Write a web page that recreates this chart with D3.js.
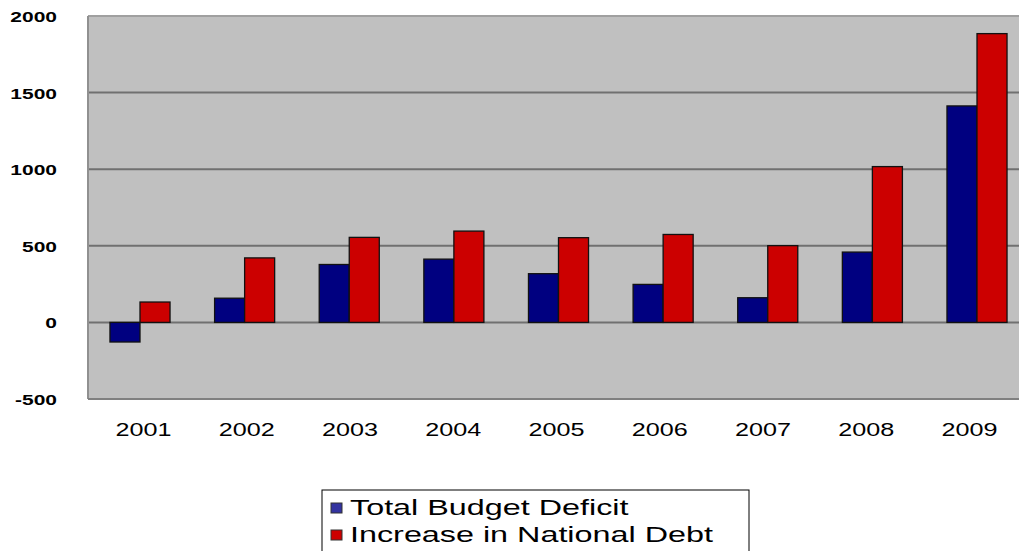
<!DOCTYPE html>
<html>
<head>
<meta charset="utf-8">
<script src="https://cdn.jsdelivr.net/npm/d3@7"></script>
<style>
  body { margin: 0; background: #fff; }
  text { font-family: "Liberation Sans", Arial, sans-serif; fill: #000; }
</style>
</head>
<body>
<div id="graphic"></div>
<script>
// data (billions of dollars)
const years = ["2001", "2002", "2003", "2004", "2005", "2006", "2007", "2008", "2009"];
const deficit = [-128, 158, 378, 413, 318, 248, 161, 459, 1413];
const debtIncrease = [133, 421, 555, 596, 553, 574, 501, 1017, 1885];
const seriesNames = ["Total Budget Deficit", "Increase in National Debt"];
const seriesColors = ["#000080", "#cc0000"];
const legendColors = ["#3333a0", "#cc0000"];
const yTicks = [-500, 0, 500, 1000, 1500, 2000];

const W = 1019, H = 551;
const margin = {top: 16, right: 0, bottom: 152, left: 88};
const width = W - margin.left - margin.right;
const height = H - margin.top - margin.bottom;

const svg = d3.select("#graphic")
    .append("svg")
    .attr("width", W)
    .attr("height", H);

const g = svg.append("g")
    .attr("transform", `translate(${margin.left}, ${margin.top})`);

// the bars run a little past the right edge of the picture (it was cropped)
const x = d3.scaleBand().domain(years).range([0, 941]).paddingInner(0.426).paddingOuter(0.21);
const xs = d3.scaleBand().domain([0, 1]).range([0, x.bandwidth()]);
const xLab = d3.scaleBand().domain(years).range([0, 929]);
const y = d3.scaleLinear().domain([-500, 2000]).range([height, 0]);

// plot background
g.append("rect")
    .attr("width", width)
    .attr("height", height)
    .attr("fill", "#c0c0c0");

// gridlines
g.append("g")
    .selectAll("line")
    .data(yTicks.filter(d => d > -500 && d < 2000))
    .join("line")
    .attr("x1", 0).attr("x2", width)
    .attr("y1", d => y(d)).attr("y2", d => y(d))
    .attr("stroke", "#707070")
    .attr("stroke-width", 2);

// border
g.append("line").attr("x1", 0).attr("x2", width).attr("y1", 0).attr("y2", 0)
    .attr("stroke", "#a0a0a0").attr("stroke-width", 2);
g.append("line").attr("x1", 0).attr("x2", 0).attr("y1", 0).attr("y2", height)
    .attr("stroke", "#909090").attr("stroke-width", 2);
g.append("line").attr("x1", 0).attr("x2", width).attr("y1", height).attr("y2", height)
    .attr("stroke", "#808080").attr("stroke-width", 2);

// bars
const rows = years.map((yr, i) => ({year: yr, values: [deficit[i], debtIncrease[i]]}));
const group = g.append("g")
    .selectAll("g")
    .data(rows)
    .join("g")
    .attr("transform", d => `translate(${x(d.year)},0)`);

group.selectAll("rect")
    .data(d => d.values.map((v, k) => ({k, v})))
    .join("rect")
    .attr("x", d => xs(d.k))
    .attr("width", xs.bandwidth())
    .attr("y", d => y(Math.max(0, d.v)))
    .attr("height", d => Math.abs(y(d.v) - y(0)))
    .attr("fill", d => seriesColors[d.k])
    .attr("stroke", "#111")
    .attr("stroke-width", 1.3);

// y tick labels (stretched horizontally like the original)
svg.append("g")
    .selectAll("text")
    .data(yTicks)
    .join("text")
    .attr("transform", d => `translate(57, ${margin.top + y(d) + 6}) scale(1.4,1)`)
    .attr("text-anchor", "end")
    .attr("font-size", 15)
    .attr("font-weight", "bold")
    .text(d => d);

// x category labels
svg.append("g")
    .selectAll("text")
    .data(years)
    .join("text")
    .attr("transform", d => `translate(${margin.left + xLab(d) + xLab.bandwidth() / 2 + 4}, 436) scale(1.4,1)`)
    .attr("text-anchor", "middle")
    .attr("font-size", 18)
    .text(d => d);

// legend
const legend = svg.append("g").attr("transform", "translate(322, 490)");
legend.append("rect")
    .attr("width", 427)
    .attr("height", 70)
    .attr("fill", "#fff")
    .attr("stroke", "#000")
    .attr("stroke-width", 1);

const item = legend.selectAll("g.item")
    .data(seriesNames)
    .join("g")
    .attr("class", "item")
    .attr("transform", (d, i) => `translate(9, ${25 + i * 27})`);

item.append("rect")
    .attr("x", 0).attr("y", -12)
    .attr("width", 11).attr("height", 10)
    .attr("fill", (d, i) => legendColors[i])
    .attr("stroke", "#333")
    .attr("stroke-width", 1);

item.append("text")
    .attr("transform", "translate(19, 0) scale(1.47,1)")
    .attr("font-size", 22)
    .text(d => d);
</script>
</body>
</html>
